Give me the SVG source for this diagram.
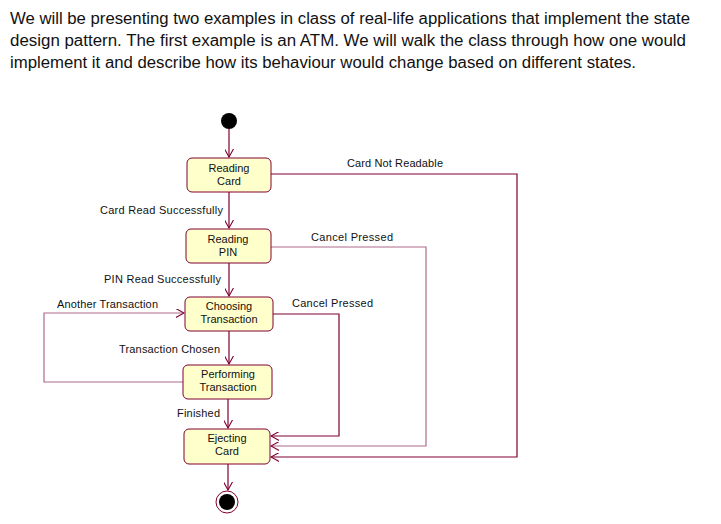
<svg xmlns="http://www.w3.org/2000/svg" width="721" height="524" viewBox="0 0 721 524">
<style>
.hdr{font-family:"Liberation Sans",Arial,sans-serif;font-size:16px;fill:#111}
.lbl{font-family:"Liberation Sans",Arial,sans-serif;font-size:11px;fill:#111}
.nt{font-family:"Liberation Sans",Arial,sans-serif;font-size:11px;fill:#111;text-anchor:middle}
.box{fill:#ffffcc;stroke:#800033;stroke-width:1}
.ln{fill:none;stroke:#800033;stroke-width:1.2}
.ln2{fill:none;stroke:#b06a8a;stroke-width:1.2}
</style>
<defs>
<marker id="ah" viewBox="0 0 10 10" refX="9" refY="5" markerWidth="9" markerHeight="9" orient="auto" markerUnits="userSpaceOnUse">
<path d="M0,0 L9,5 L0,10" fill="none" stroke="#800033" stroke-width="1.2"/>
</marker>
</defs>
<rect width="721" height="524" fill="#fff"/>
<g id="header">
<text class="hdr" x="10" y="24" textLength="680" lengthAdjust="spacingAndGlyphs">We will be presenting two examples in class of real-life applications that implement the state</text>
<text class="hdr" x="10" y="46" textLength="676" lengthAdjust="spacingAndGlyphs">design pattern. The first example is an ATM. We will walk the class through how one would</text>
<text class="hdr" x="10" y="68" textLength="626" lengthAdjust="spacingAndGlyphs">implement it and describe how its behaviour would change based on different states.</text>
</g>
<g id="connectors">
<path class="ln" d="M229,129 V157" marker-end="url(#ah)"/>
<path class="ln" d="M229,192 V228" marker-end="url(#ah)"/>
<path class="ln" d="M229,263 V296" marker-end="url(#ah)"/>
<path class="ln" d="M229,331 V364" marker-end="url(#ah)"/>
<path class="ln" d="M228,399 V428" marker-end="url(#ah)"/>
<path class="ln" d="M228,464 V490" marker-end="url(#ah)"/>
<path class="ln" d="M271,174 H517 V457 H271" marker-end="url(#ah)"/>
<path class="ln2" d="M271,247 H426 V446 H271" marker-end="url(#ah)"/>
<path class="ln" d="M273,314 H339 V436 H271" marker-end="url(#ah)"/>
<path class="ln2" d="M183,382 H44 V313 H184" marker-end="url(#ah)"/>
<text class="lbl" x="347" y="167" textLength="96">Card Not Readable</text>
<text class="lbl" x="100" y="214" textLength="123">Card Read Successfully</text>
<text class="lbl" x="311" y="241" textLength="82">Cancel Pressed</text>
<text class="lbl" x="104" y="283" textLength="117">PIN Read Successfully</text>
<text class="lbl" x="57" y="308" textLength="101">Another Transaction</text>
<text class="lbl" x="292" y="307" textLength="81">Cancel Pressed</text>
<text class="lbl" x="119" y="353" textLength="101">Transaction Chosen</text>
<text class="lbl" x="177" y="417" textLength="43">Finished</text>
</g>
<g id="start"><circle cx="229" cy="121" r="8" fill="#000"/></g>
<g id="reading-card"><rect class="box" x="187" y="158" width="84" height="34" rx="5"/><text class="nt" x="229" y="172">Reading</text><text class="nt" x="229" y="185">Card</text></g>
<g id="reading-pin"><rect class="box" x="186" y="229" width="85" height="34" rx="5"/><text class="nt" x="228" y="243">Reading</text><text class="nt" x="228" y="256">PIN</text></g>
<g id="choosing-transaction"><rect class="box" x="185" y="297" width="88" height="34" rx="5"/><text class="nt" x="229" y="310">Choosing</text><text class="nt" x="229" y="323">Transaction</text></g>
<g id="performing-transaction"><rect class="box" x="183" y="365" width="89" height="34" rx="5"/><text class="nt" x="228" y="378">Performing</text><text class="nt" x="228" y="391">Transaction</text></g>
<g id="ejecting-card"><rect class="box" x="184" y="429" width="86" height="35" rx="5"/><text class="nt" x="227" y="442">Ejecting</text><text class="nt" x="227" y="455">Card</text></g>
<g id="end"><circle cx="227" cy="502" r="11" fill="#fff" stroke="#800033" stroke-width="1"/><circle cx="227" cy="502" r="8" fill="#000"/></g>
</svg>
